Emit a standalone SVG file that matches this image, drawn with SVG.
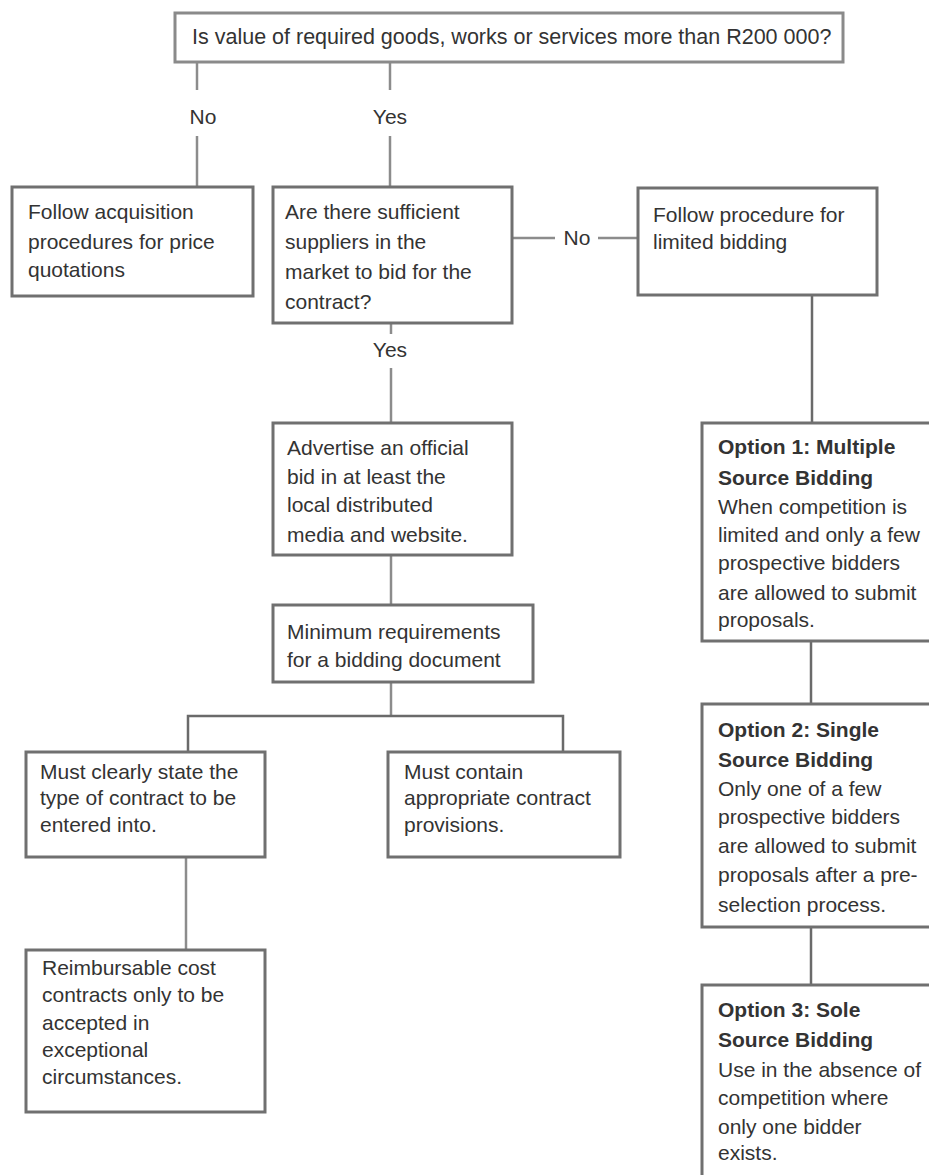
<svg xmlns="http://www.w3.org/2000/svg" width="929" height="1175" viewBox="0 0 929 1175">
<style>
.bg{fill:#ffffff}
.box{fill:#ffffff;stroke:#707070;stroke-width:3}
.top{fill:#ffffff;stroke:#8a8a8a;stroke-width:3}
.ln{fill:none;stroke:#8c8c8c;stroke-width:2.5}
.lnd{fill:none;stroke:#6a6a6a;stroke-width:2.5}
text{font-family:"Liberation Sans",Arial,sans-serif;font-size:21px;fill:#333333}
.b{font-weight:bold}
.lbl{text-anchor:middle}
.q{font-size:21.5px}
</style>
<rect class="bg" x="0" y="0" width="929" height="1175"/>
<g id="connectors">
  <line class="ln" x1="197" y1="62" x2="197" y2="90"/>
  <line class="ln" x1="197" y1="136" x2="197" y2="187"/>
  <line class="ln" x1="390" y1="62" x2="390" y2="90"/>
  <line class="ln" x1="390" y1="136" x2="390" y2="187"/>
  <line class="ln" x1="512" y1="238" x2="555" y2="238"/>
  <line class="ln" x1="598" y1="238" x2="638" y2="238"/>
  <line class="ln" x1="391" y1="323" x2="391" y2="334"/>
  <line class="ln" x1="391" y1="368" x2="391" y2="423"/>
  <line class="ln" x1="391" y1="555" x2="391" y2="605"/>
  <line class="ln" x1="391" y1="682" x2="391" y2="716"/>
  <polyline class="lnd" points="188,752 188,716 563,716 563,752"/>
  <line class="ln" x1="186" y1="857" x2="186" y2="950"/>
  <line class="lnd" x1="812" y1="295" x2="812" y2="423"/>
  <line class="lnd" x1="811" y1="641" x2="811" y2="704"/>
  <line class="lnd" x1="811" y1="927" x2="811" y2="985"/>
  <text class="lbl" x="203" y="124">No</text>
  <text class="lbl" x="390" y="124">Yes</text>
  <text class="lbl" x="577" y="245">No</text>
  <text class="lbl" x="390" y="357">Yes</text>
</g>
<g id="n-value">
  <rect class="top" x="175" y="13" width="668" height="49"/>
  <text class="q" x="192" y="44">Is value of required goods, works or services more than R200 000?</text>
</g>
<g id="n-quotations">
  <rect class="box" x="12" y="187" width="241" height="109"/>
  <text x="28" y="219">Follow acquisition</text>
  <text x="28" y="249">procedures for price</text>
  <text x="28" y="277">quotations</text>
</g>
<g id="n-sufficient">
  <rect class="box" x="273" y="187" width="239" height="136"/>
  <text x="285" y="219">Are there sufficient</text>
  <text x="285" y="249">suppliers in the</text>
  <text x="285" y="279">market to bid for the</text>
  <text x="285" y="309">contract?</text>
</g>
<g id="n-limited">
  <rect class="box" x="638" y="188" width="239" height="107"/>
  <text x="653" y="222">Follow procedure for</text>
  <text x="653" y="249">limited bidding</text>
</g>
<g id="n-advertise">
  <rect class="box" x="273" y="423" width="239" height="132"/>
  <text x="287" y="455">Advertise an official</text>
  <text x="287" y="484">bid in at least the</text>
  <text x="287" y="512">local distributed</text>
  <text x="287" y="542">media and website.</text>
</g>
<g id="n-minimum">
  <rect class="box" x="273" y="605" width="260" height="77"/>
  <text x="287" y="639">Minimum requirements</text>
  <text x="287" y="667">for a bidding document</text>
</g>
<g id="n-clearly">
  <rect class="box" x="26" y="752" width="239" height="105"/>
  <text x="40" y="779">Must clearly state the</text>
  <text x="40" y="805">type of contract to be</text>
  <text x="40" y="832">entered into.</text>
</g>
<g id="n-provisions">
  <rect class="box" x="388" y="752" width="232" height="105"/>
  <text x="404" y="779">Must contain</text>
  <text x="404" y="805">appropriate contract</text>
  <text x="404" y="832">provisions.</text>
</g>
<g id="n-reimbursable">
  <rect class="box" x="26" y="950" width="239" height="162"/>
  <text x="42" y="975">Reimbursable cost</text>
  <text x="42" y="1002">contracts only to be</text>
  <text x="42" y="1030">accepted in</text>
  <text x="42" y="1057">exceptional</text>
  <text x="42" y="1084">circumstances.</text>
</g>
<g id="n-option1">
  <rect class="box" x="702" y="423" width="240" height="218"/>
  <text class="b" x="718" y="454">Option 1: Multiple</text>
  <text class="b" x="718" y="485">Source Bidding</text>
  <text x="718" y="514">When competition is</text>
  <text x="718" y="542">limited and only a few</text>
  <text x="718" y="570">prospective bidders</text>
  <text x="718" y="600">are allowed to submit</text>
  <text x="718" y="627">proposals.</text>
</g>
<g id="n-option2">
  <rect class="box" x="702" y="704" width="240" height="223"/>
  <text class="b" x="718" y="737">Option 2: Single</text>
  <text class="b" x="718" y="767">Source Bidding</text>
  <text x="718" y="796">Only one of a few</text>
  <text x="718" y="824">prospective bidders</text>
  <text x="718" y="853">are allowed to submit</text>
  <text x="718" y="882">proposals after a pre-</text>
  <text x="718" y="912">selection process.</text>
</g>
<g id="n-option3">
  <rect class="box" x="702" y="985" width="240" height="200"/>
  <text class="b" x="718" y="1017">Option 3: Sole</text>
  <text class="b" x="718" y="1047">Source Bidding</text>
  <text x="718" y="1077">Use in the absence of</text>
  <text x="718" y="1105">competition where</text>
  <text x="718" y="1134">only one bidder</text>
  <text x="718" y="1160">exists.</text>
</g>
</svg>
